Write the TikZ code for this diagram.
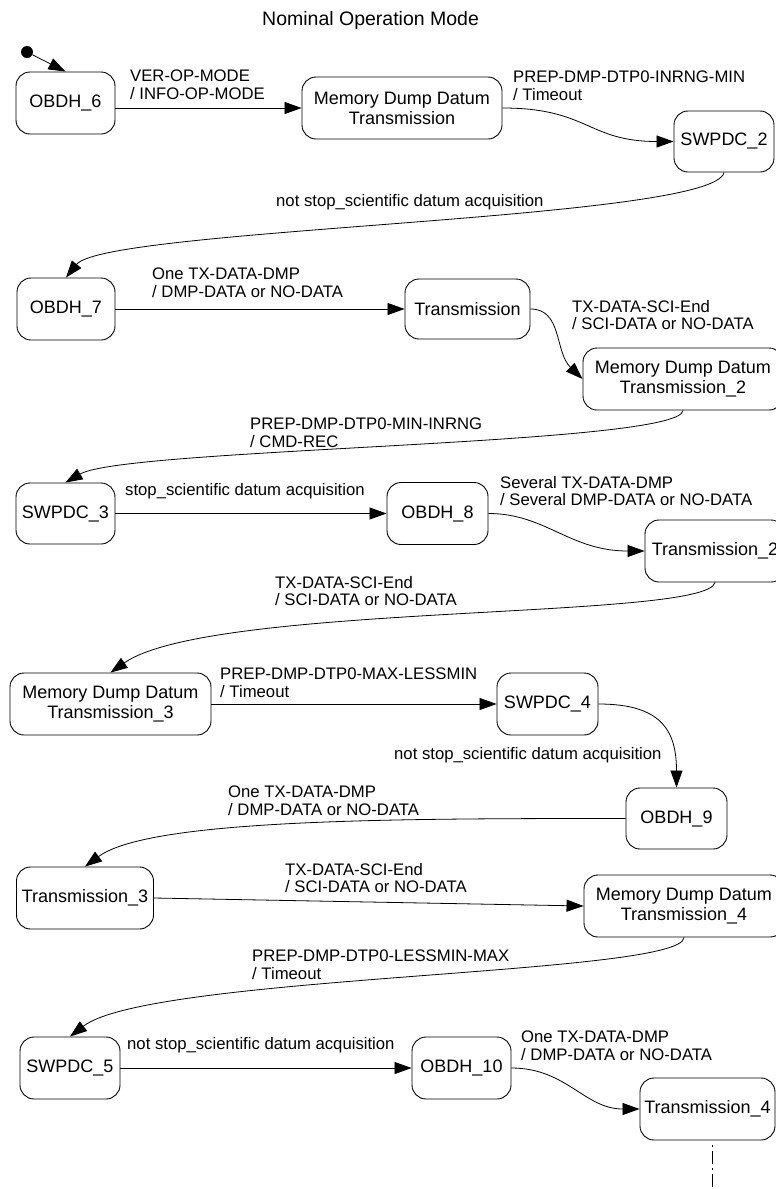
\documentclass[tikz,border=0pt]{standalone}
\usepackage{fontspec}
\setmainfont{Liberation Sans}
\usetikzlibrary{arrows.meta}
\begin{document}
\begin{tikzpicture}[x=1pt,y=-1pt,
  state/.style={draw=black, line width=0.9pt, rounded corners=14pt, fill=white,
    align=center, inner sep=2pt, font=\fontsize{18}{20}\selectfont},
  lbl/.style={anchor=north west, inner sep=0pt, align=left,
    font=\fontsize{16.7}{17.5}\selectfont},
  tr/.style={-{Triangle[length=17pt,width=12pt]}, line width=0.8pt},
]
\useasboundingbox (0,0) rectangle (776,1189);
\fill[white] (0,0) rectangle (776,1189);
\clip (0,0) rectangle (776,1189);

% title
\node[anchor=base west, inner sep=0pt, font=\fontsize{19.5}{22}\selectfont] (title) at (262,25) {Nominal Operation Mode};

% states
\node[state, minimum width=99pt,  minimum height=62pt] (obdh6)  at (65.5,103)   {OBDH\_6};
\node[state, minimum width=200pt, minimum height=62pt] (mddt1)  at (402,108)    {Memory Dump Datum\\Transmission};
\node[state, minimum width=100pt, minimum height=61pt] (swpdc2) at (724,141.5)  {SWPDC\_2};
\node[state, minimum width=98pt,  minimum height=62pt] (obdh7)  at (66,309)     {OBDH\_7};
\node[state, minimum width=125pt, minimum height=60pt] (trans1) at (467.5,309)  {Transmission};
\node[state, minimum width=200pt, minimum height=62pt] (mddt2)  at (683,379)    {Memory Dump Datum\\Transmission\_2};
\node[state, minimum width=99pt,  minimum height=61pt] (swpdc3) at (65.5,513.5) {SWPDC\_3};
\node[state, minimum width=101pt, minimum height=62pt] (obdh8)  at (437.5,513.5){OBDH\_8};
\node[state, minimum width=140pt, minimum height=62pt] (trans2) at (715,551)    {Transmission\_2};
\node[state, minimum width=201pt, minimum height=62pt] (mddt3)  at (110.5,704)  {Memory Dump Datum\\Transmission\_3};
\node[state, minimum width=101pt, minimum height=62pt] (swpdc4) at (547.5,704)  {SWPDC\_4};
\node[state, minimum width=101pt, minimum height=61pt] (obdh9)  at (676.5,818.5){OBDH\_9};
\node[state, minimum width=137pt, minimum height=62pt] (trans3) at (85,898)     {Transmission\_3};
\node[state, minimum width=200pt, minimum height=62pt] (mddt4)  at (684,906)    {Memory Dump Datum\\Transmission\_4};
\node[state, minimum width=100pt, minimum height=62pt] (swpdc5) at (70,1068)    {SWPDC\_5};
\node[state, minimum width=99pt,  minimum height=62pt] (obdh10) at (461.5,1068) {OBDH\_10};
\node[state, minimum width=135pt, minimum height=62pt] (trans4) at (707.5,1109) {Transmission\_4};

% initial pseudo-state
\node[circle, fill=black, inner sep=0pt, minimum size=12pt] (init) at (27,52) {};
\coordinate (cont) at (712,1189);

% transitions
\draw[tr] (init) -- (obdh6.north);
\draw[tr] (obdh6.east |- mddt1.west) -- (mddt1.west);
\draw[tr] (mddt1.east) .. controls +(86,0) and +(-86,0) .. (swpdc2.west);
\draw[tr] (swpdc2.south) .. controls +(-9,48) and +(40,-50) .. (obdh7.north);
\draw[tr] (obdh7.east) -- (trans1.west);
\draw[tr] (trans1.east) .. controls +(32,0) and +(-28,-27) .. (mddt2.west);
\draw[tr] (mddt2.south) .. controls +(-3,35) and +(60,-35) .. (swpdc3.north);
\draw[tr] (swpdc3.east) -- (obdh8.west);
\draw[tr] (obdh8.east) .. controls +(57,0) and +(-75,0) .. (trans2.west);
\draw[tr] (trans2.south) .. controls +(-8,38) and +(100,-70) .. (mddt3.north);
\draw[tr] (mddt3.east) -- (swpdc4.west);
\draw[tr] (swpdc4.east) .. controls +(62,0) and +(0,-58) .. (obdh9.north);
\draw[tr] (obdh9.west) .. controls +(-226,0) and +(65,-48) .. (trans3.north);
\draw[tr] (trans3.east) -- (mddt4.west);
\draw[tr] (mddt4.south) .. controls +(-1,38) and +(80,-62) .. (swpdc5.north);
\draw[tr] (swpdc5.east) -- (obdh10.west);
\draw[tr] (obdh10.east) .. controls +(55,0) and +(-55,0) .. (trans4.west);
\draw[line width=0.8pt, shorten <=5pt, dash pattern=on 2pt off 4pt on 13pt off 4pt] (trans4.south -| cont) -- (cont);

% transition labels
\node[lbl] (l1)  at (130,70)   {VER-OP-MODE\\/ INFO-OP-MODE};
\node[lbl] (l2)  at (513,71)   {PREP-DMP-DTP0-INRNG-MIN\\/ Timeout};
\node[lbl] (l3)  at (276,194)  {not stop\_scientific datum acquisition};
\node[lbl] (l4)  at (152,268)  {One TX-DATA-DMP\\/ DMP-DATA or NO-DATA};
\node[lbl] (l5)  at (572,300)  {TX-DATA-SCI-End\\/ SCI-DATA or NO-DATA};
\node[lbl] (l6)  at (250,418)  {PREP-DMP-DTP0-MIN-INRNG\\/ CMD-REC};
\node[lbl] (l7)  at (125,483)  {stop\_scientific datum acquisition};
\node[lbl] (l8)  at (500,476)  {Several TX-DATA-DMP\\/ Several DMP-DATA or NO-DATA};
\node[lbl] (l9)  at (275,576)  {TX-DATA-SCI-End\\/ SCI-DATA or NO-DATA};
\node[lbl] (l10) at (220,668)  {PREP-DMP-DTP0-MAX-LESSMIN\\/ Timeout};
\node[lbl] (l11) at (394,747)  {not stop\_scientific datum acquisition};
\node[lbl] (l12) at (228,786)  {One TX-DATA-DMP\\/ DMP-DATA or NO-DATA};
\node[lbl] (l13) at (285,863)  {TX-DATA-SCI-End\\/ SCI-DATA or NO-DATA};
\node[lbl] (l14) at (252,950)  {PREP-DMP-DTP0-LESSMIN-MAX\\/ Timeout};
\node[lbl] (l15) at (127,1037) {not stop\_scientific datum acquisition};
\node[lbl] (l16) at (521,1031) {One TX-DATA-DMP\\/ DMP-DATA or NO-DATA};
\end{tikzpicture}
\end{document}
